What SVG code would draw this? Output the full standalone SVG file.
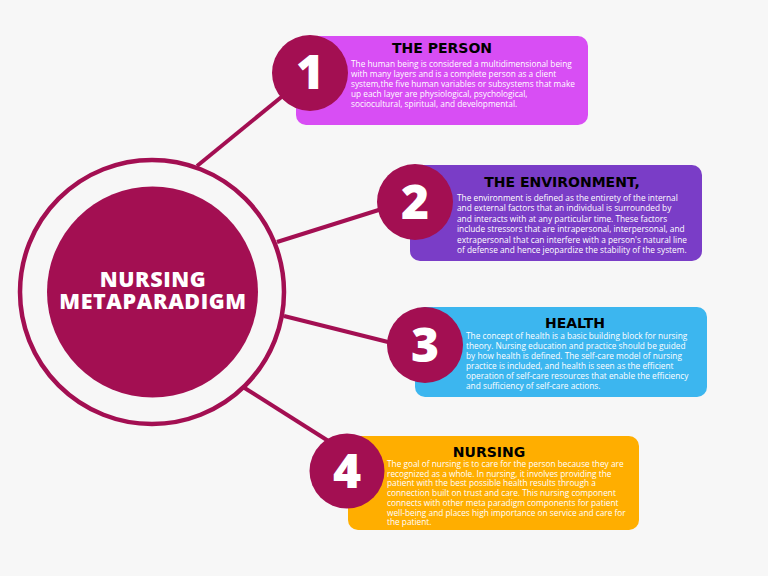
<svg xmlns="http://www.w3.org/2000/svg" width="768" height="576" viewBox="0 0 768 576">
<style>
.bg{fill:#f7f7f7}
.conn line{stroke:#a30f52;stroke-width:4}
.num{fill:#a30f52}
.numt{font-family:"Open Sans","DejaVu Sans",sans-serif;font-weight:800;font-size:48px;fill:#ffffff;text-anchor:middle}
.title{font-family:"DejaVu Sans","Open Sans",sans-serif;font-weight:bold;font-size:14px;fill:#000000;text-anchor:middle}
.body{font-family:"Open Sans","DejaVu Sans",sans-serif;font-size:8.3px;fill:#ffffff}
.main{font-family:"Open Sans","DejaVu Sans",sans-serif;font-weight:800;font-size:21.5px;letter-spacing:0.6px;fill:#ffffff;text-anchor:middle}
</style>
<rect class="bg" x="0" y="0" width="768" height="576"/>
<g id="connectors" class="conn">
<line x1="197" y1="166" x2="290" y2="90"/>
<line x1="277" y1="242" x2="385" y2="208"/>
<line x1="284" y1="316" x2="392" y2="343"/>
<line x1="243" y1="387" x2="330" y2="442"/>
</g>
<g id="center">
<circle cx="152" cy="292" r="132" fill="none" stroke="#a30f52" stroke-width="4.5"/>
<circle cx="152.5" cy="292" r="105.5" fill="#a30f52"/>
<text class="main" x="153" y="287">NURSING</text>
<text class="main" x="153" y="309">METAPARADIGM</text>
</g>
<g id="node1">
<rect x="296" y="36" width="292" height="89" rx="10" fill="#d84ef4"/>
<circle class="num" cx="310" cy="73" r="38"/>
<text class="numt" x="310" y="89">1</text>
<text class="title" x="442" y="53">THE PERSON</text>
<text class="body"><tspan x="351" y="67">The human being is considered a multidimensional being</tspan><tspan x="351" y="77">with many layers and is a complete person as a client</tspan><tspan x="351" y="87">system,the five human variables or subsystems that make</tspan><tspan x="351" y="97">up each layer are physiological, psychological,</tspan><tspan x="351" y="107">sociocultural, spiritual, and developmental.</tspan></text>
</g>
<g id="node2">
<rect x="410" y="165" width="292" height="96" rx="10" fill="#7a3dc7"/>
<circle class="num" cx="415" cy="202" r="38"/>
<text class="numt" x="415" y="219">2</text>
<text class="title" x="562" y="187">THE ENVIRONMENT,</text>
<text class="body"><tspan x="457" y="201">The environment is defined as the entirety of the internal</tspan><tspan x="457" y="211.4">and external factors that an individual is surrounded by</tspan><tspan x="457" y="221.8">and interacts with at any particular time. These factors</tspan><tspan x="457" y="232.2">include stressors that are intrapersonal, interpersonal, and</tspan><tspan x="457" y="242.6">extrapersonal that can interfere with a person's natural line</tspan><tspan x="457" y="253">of defense and hence jeopardize the stability of the system.</tspan></text>
</g>
<g id="node3">
<rect x="415" y="307" width="292" height="90" rx="10" fill="#3cb6ef"/>
<circle class="num" cx="425" cy="345" r="38"/>
<text class="numt" x="425" y="362">3</text>
<text class="title" x="575" y="327.5">HEALTH</text>
<text class="body"><tspan x="466" y="339">The concept of health is a basic building block for nursing</tspan><tspan x="466" y="349">theory. Nursing education and practice should be guided</tspan><tspan x="466" y="359">by how health is defined. The self-care model of nursing</tspan><tspan x="466" y="369">practice is included, and health is seen as the efficient</tspan><tspan x="466" y="379">operation of self-care resources that enable the efficiency</tspan><tspan x="466" y="389">and sufficiency of self-care actions.</tspan></text>
</g>
<g id="node4">
<rect x="348" y="436" width="291" height="94" rx="10" fill="#ffae00"/>
<circle class="num" cx="347" cy="471" r="37.5"/>
<text class="numt" x="347" y="488">4</text>
<text class="title" x="489" y="456.5">NURSING</text>
<text class="body"><tspan x="387" y="467">The goal of nursing is to care for the person because they are</tspan><tspan x="387" y="476.7">recognized as a whole. In nursing, it involves providing the</tspan><tspan x="387" y="486.4">patient with the best possible health results through a</tspan><tspan x="387" y="496.1">connection built on trust and care. This nursing component</tspan><tspan x="387" y="505.8">connects with other meta paradigm components for patient</tspan><tspan x="387" y="515.5">well-being and places high importance on service and care for</tspan><tspan x="387" y="525.2">the patient.</tspan></text>
</g>
</svg>
